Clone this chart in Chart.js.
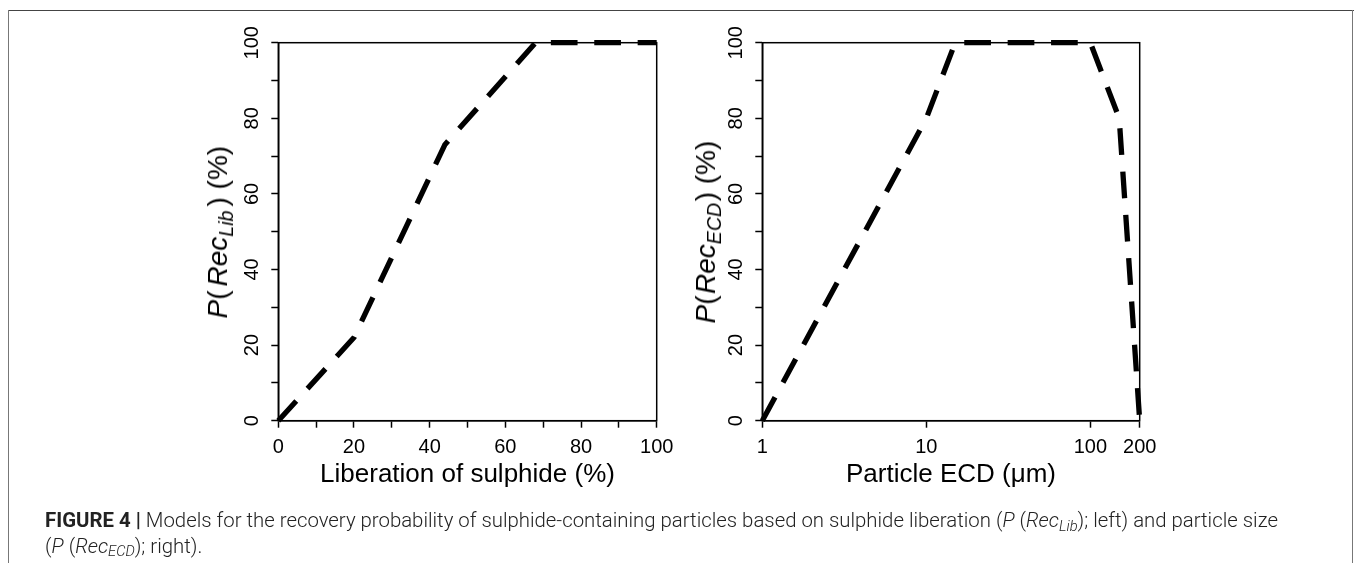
<!DOCTYPE html>
<html><head><meta charset="utf-8">
<script src="https://cdn.jsdelivr.net/npm/chart.js@4.4.1/dist/chart.umd.min.js"></script>
<style>
html,body{margin:0;padding:0;background:#fff;width:1354px;height:563px;overflow:hidden;position:relative;}
canvas{position:absolute;left:0;top:0;}
.fr{position:absolute;background:#666;}
.ytitle{position:absolute;left:0;top:0;font-family:"Liberation Sans",Arial,sans-serif;font-size:28px;white-space:nowrap;transform-origin:0 0;line-height:1;color:#000;}
.ytitle .g{display:inline-block;width:0;}
.xtitle{position:absolute;font-family:"Liberation Sans",Arial,sans-serif;font-size:26px;white-space:nowrap;transform:translateX(-50%);line-height:26px;color:#000;}
.sub{font-size:0.7em;position:relative;top:0.3em;}
.caption{position:absolute;left:45px;top:509px;font-family:Roboto,sans-serif;font-weight:300;font-size:21px;line-height:23.5px;white-space:nowrap;transform-origin:0 0;color:#222;}
.caption b{font-weight:700;}
.caption .cs{font-size:0.72em;position:relative;top:0.25em;}
</style>
</head><body>
<div class="fr" style="left:8px;top:10px;width:1346px;height:1px;background:#444"></div>
<div class="fr" style="left:8px;top:10px;width:1px;height:553px;background:#777"></div>
<div class="fr" style="left:1352px;top:10px;width:1px;height:553px;background:#777"></div>
<canvas id="c1" width="1354" height="563"></canvas>
<canvas id="c2" width="1354" height="563"></canvas>
<div class="ytitle" id="yt1"><i>P</i>(<span class="g"></span><i>Rec</i><span class="sub"><i>Lib</i></span><span class="g"></span>) (%)</div>
<div class="ytitle" id="yt2"><i>P</i>(<span class="g"></span><i>Rec</i><span class="sub"><i>ECD</i></span><span class="g"></span>) (%)</div>
<div class="xtitle" style="left:467.5px;top:459.6px">Liberation of sulphide (%)</div>
<div class="xtitle" style="left:951px;top:459.6px">Particle ECD (μm)</div>
<div class="caption" id="cap"><span id="l1"><b>FIGURE 4 |</b> Models for the recovery probability of sulphide-containing particles based on sulphide liberation (<i>P</i> (<i>Rec<span class="cs">Lib</span></i>); left) and particle size</span><br>(<i>P</i> (<i>Rec<span class="cs">ECD</span></i>); right).</div>
<script>
// ---- data ----
const libX = [0, 20, 44, 68, 100];
const libY = [0, 22, 73, 100, 100];
const ecdX = [1, 10, 15, 100, 150, 200];
const ecdY = [0, 80, 100, 100, 80, 0];
const libTicks = [0, 10, 20, 30, 40, 50, 60, 70, 80, 90, 100];
const libTickLabels = ['0', '', '20', '', '40', '', '60', '', '80', '', '100'];
const ecdTicks = [1, 10, 100, 200];
const ecdTickLabels = ['1', '10', '100', '200'];
const yTicks = [0, 10, 20, 30, 40, 50, 60, 70, 80, 90, 100];
const yTickLabels = ['0', '', '20', '', '40', '', '60', '', '80', '', '100'];

const W = 1354, H = 563;
const areaTop = 42.7, areaBottom = 420.7;
const boxPlugin = {
  id: 'box',
  beforeDatasetsDraw(chart) {
    const {ctx, chartArea: a} = chart;
    ctx.save();
    ctx.strokeStyle = '#000';
    ctx.lineWidth = 1.5;
    ctx.strokeRect(a.left, a.top, a.right - a.left, a.bottom - a.top);
    ctx.restore();
  }
};
const tickFont = {family: '"Liberation Sans", Arial, sans-serif', size: 20};
function yScale(ticksArr, labels, width) {
  return {
    type: 'linear', min: 0, max: 100,
    afterBuildTicks: s => { s.ticks = ticksArr.map(v => ({value: v})); },
    afterFit: s => { s.width = width; },
    ticks: {callback: (v, i) => labels[i], font: tickFont, color: '#000', padding: 2,
            minRotation: 90, maxRotation: 90, crossAlign: 'center', autoSkip: false},
    grid: {drawOnChartArea: false, tickLength: 7, tickWidth: 1.5, tickColor: '#000'},
    border: {color: '#000', width: 1.5}
  };
}
function xScale(type, min, max, ticksArr, labels) {
  return {
    type, min, max,
    afterBuildTicks: s => { s.ticks = ticksArr.map(v => ({value: v})); },
    afterFit: s => { s.height = 60; },
    ticks: {callback: (v, i) => labels[i], font: tickFont, color: '#000', padding: 8,
            maxRotation: 0, minRotation: 0, autoSkip: false},
    grid: {drawOnChartArea: false, tickLength: 7, tickWidth: 1.5, tickColor: '#000'},
    border: {color: '#000', width: 1.5}
  };
}
function ds(xs, ys) {
  return {
    data: xs.map((x, i) => ({x, y: ys[i]})),
    borderColor: '#000', borderWidth: 5.3, borderDash: [26.7, 16.7],
    borderCapStyle: 'butt', borderJoinStyle: 'round',
    pointRadius: 0, fill: false, tension: 0, clip: false
  };
}
const common = {responsive: false, animation: false, events: [],
  plugins: {legend: {display: false}, tooltip: {enabled: false}, title: {display: false}}};

new Chart(document.getElementById('c1'), {
  type: 'line',
  data: {datasets: [ds(libX, libY)]},
  options: Object.assign({}, common, {
    layout: {padding: {left: 0, top: areaTop, right: W - 656.7, bottom: H - areaBottom - 60}},
    scales: {x: xScale('linear', 0, 100, libTicks, libTickLabels), y: yScale(yTicks, yTickLabels, 278.3)}
  }),
  plugins: [boxPlugin]
});
new Chart(document.getElementById('c2'), {
  type: 'line',
  data: {datasets: [ds(ecdX, ecdY)]},
  options: Object.assign({}, common, {
    layout: {padding: {left: 762.3 - 60, top: areaTop, right: W - 1139.7, bottom: H - areaBottom - 60}},
    scales: {x: xScale('logarithmic', 1, 200, ecdTicks, ecdTickLabels), y: yScale(yTicks, yTickLabels, 60)}
  }),
  plugins: [boxPlugin]
});
// rotated y titles (bottom->top), centred on (cx, cy), total length len
function placeY(id, cx, cy, len) {
  const el = document.getElementById(id);
  const gs = el.querySelectorAll('.g');
  gs.forEach(g => g.style.width = '0px');
  const nat = el.offsetWidth;
  const extra = Math.max(0, len - nat);
  gs.forEach(g => g.style.width = (extra / gs.length) + 'px');
  const w = el.offsetWidth, h = el.offsetHeight;
  el.style.transform = 'translate(' + (cx - h / 2) + 'px,' + (cy + w / 2) + 'px) rotate(-90deg)';
}
function layoutText() {
  placeY('yt1', 218, 232, 173);
  placeY('yt2', 706, 232, 183);
  const l1 = document.getElementById('l1');
  const w = l1.offsetWidth;
  document.getElementById('cap').style.transform = 'scaleX(' + (1233 / w) + ')';
}
layoutText();
if (document.fonts) document.fonts.ready.then(layoutText);
</script>
</body></html>
